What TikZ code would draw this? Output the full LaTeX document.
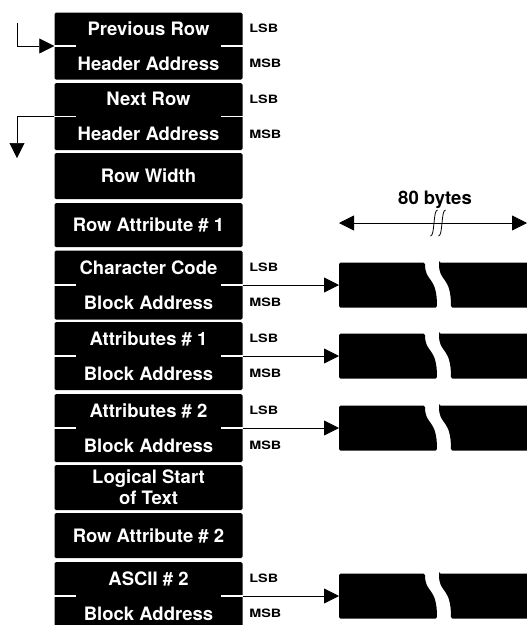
\documentclass[tikz,border=0pt]{standalone}
\usepackage{fontspec}
\setmainfont{TeX Gyre Heros}
\newfontfamily\byteFont[FakeStretch=1.25]{TeX Gyre Heros}
\usetikzlibrary{arrows.meta}
\begin{document}
\begin{tikzpicture}[
                x=1pt, y=-1pt,
                rowBlock/.style={rectangle,fill=black,rounded corners=1.5pt,
                                 minimum width=188pt,inner sep=0pt},
                rowText/.style={text=white,inner sep=0pt,text height=13.3pt,text depth=0pt,
                                font=\fontsize{18.5}{21}\selectfont\bfseries},
                byteText/.style={anchor=west,inner sep=0pt,text height=8.3pt,text depth=0pt,
                                 font=\byteFont\fontsize{11.5}{12}\selectfont\bfseries},
                splitTick/.style={draw=white,line width=1.2pt},
                rowPointer/.style={line width=0.8pt,-{Triangle[length=15pt,width=15pt]}},
                spanArrow/.style={line width=0.8pt,
                                  {Triangle[length=15pt,width=15pt]}-{Triangle[length=15pt,width=15pt]}},
                dataBar/.style={fill=black,rounded corners=1.5pt}]
                \useasboundingbox (0,0) rectangle (527,625);
                \foreach \v/\yc/\h in {prev/46/67,next/116.5/67,width/176/46,attrA/225/44,
                                       chr/285/69,atrA/356/68,atrB/428/68,logic/487.5/45,
                                       attrB/535.5/45,ascii/596/68}{
                    \node[rowBlock,minimum height=\h pt] (\v) at (148.5,\yc) {};
                }
                \foreach \v/\hi/\lo in {prev/Previous Row/Header Address,
                                        next/Next Row/Header Address,
                                        chr/Character Code/Block Address,
                                        atrA/Attributes \# 1/Block Address,
                                        atrB/Attributes \# 2/Block Address,
                                        ascii/ASCII \# 2/Block Address}{
                    \draw[splitTick] (\v.west) -- ++(22,0);
                    \draw[splitTick] (\v.east) -- ++(-22,0);
                    \node[rowText] (\v-hi) at ([yshift=17.5pt]\v.center) {\hi};
                    \node[rowText] (\v-lo) at ([yshift=-17.5pt]\v.center) {\lo};
                    \node[byteText] (\v-lsb) at ([xshift=6.5pt,yshift=17.5pt]\v.east) {LSB};
                    \node[byteText] (\v-msb) at ([xshift=6.5pt,yshift=-17.5pt]\v.east) {MSB};
                }
                \node[rowText] (width-txt) at (width) {Row Width};
                \node[rowText] (attrA-txt) at (attrA) {Row Attribute \# 1};
                \node[rowText] (attrB-txt) at (attrB) {Row Attribute \# 2};
                \node[rowText] (logic-hi) at ([yshift=10.5pt]logic.center) {Logical Start};
                \node[rowText] (logic-lo) at ([yshift=-10.5pt]logic.center) {of Text};
                \coordinate (prevTail) at (17,23);
                \coordinate (nextTip) at (17,158);
                \draw[rowPointer,line width=0.6pt] (prevTail) |- (prev.west);
                \draw[rowPointer,line width=0.6pt] (next.west) -| (nextTip);
                \foreach \v/\yc in {chr/285,atrA/356,atrB/428,ascii/596}{
                    \coordinate (\v-bar) at (339,\yc);
                    \fill[dataBar] (339,\yc-22.5) -- (425,\yc-22.5)
                        .. controls (425,\yc-2) and (437,\yc-10) .. (437,\yc+22.5)
                        -- (339,\yc+22.5) -- cycle;
                    \fill[dataBar] (439,\yc-22.5) -- (532,\yc-22.5) -- (532,\yc+22.5)
                        -- (451,\yc+22.5) .. controls (451,\yc-10) and (439,\yc-2) .. (439,\yc-22.5)
                        -- cycle;
                    \draw[rowPointer] (\v.east) -- (\v-bar);
                }
                \coordinate (spanL) at (339,223);
                \coordinate (spanR) at (527,223);
                \draw[spanArrow] (spanL) -- (spanR);
                \foreach \bx in {434,442}{
                    \draw[line width=0.8pt] (\bx-3.5,236) .. controls (\bx+1,236) and (\bx-1,210) .. (\bx+3.5,210);
                }
                \node[rowText,text=black] (spanLabel) at (435,197.5) {80 bytes};
            \end{tikzpicture}
\end{document}
